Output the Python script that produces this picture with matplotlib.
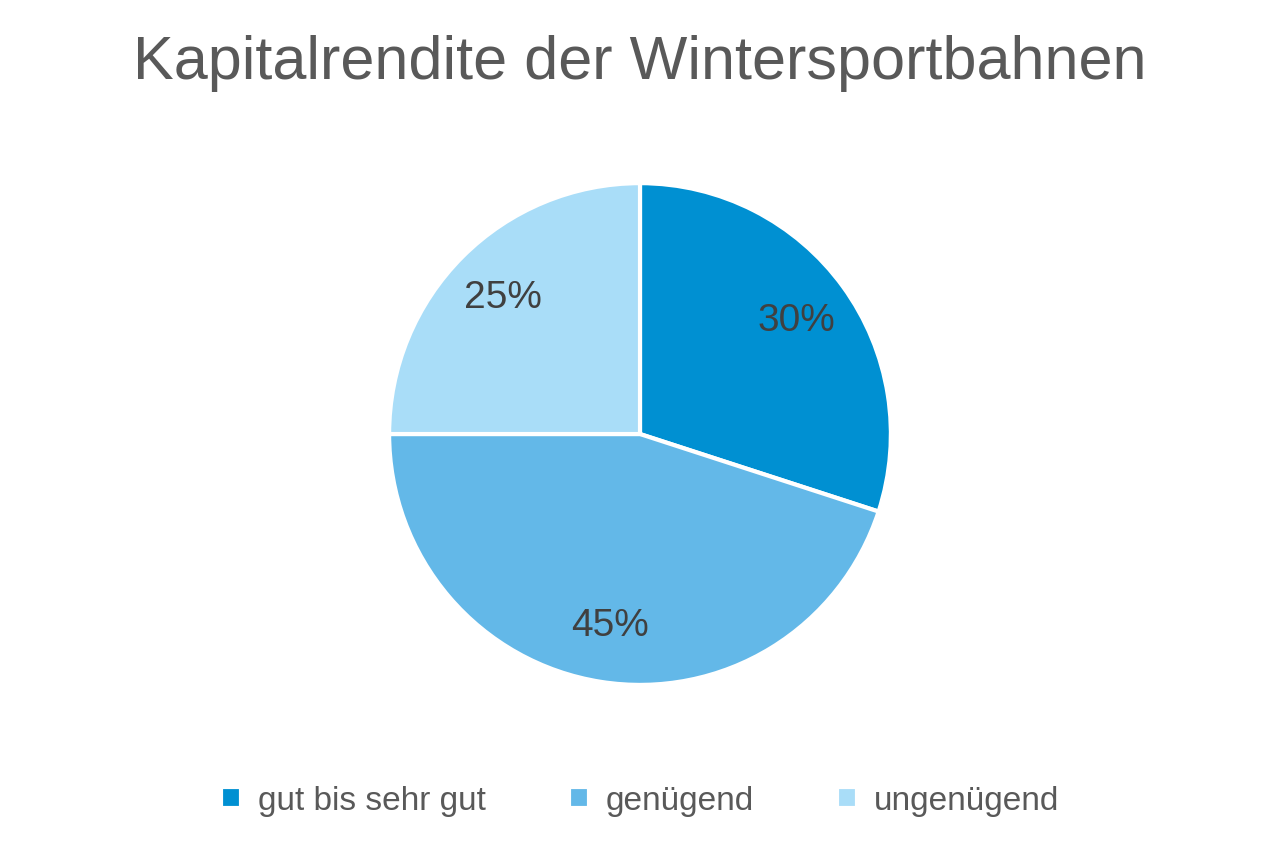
import matplotlib.pyplot as plt

labels = ['gut bis sehr gut', 'genügend', 'ungenügend']
values = [30, 45, 25]
colors = ['#0090D2', '#63B8E8', '#A9DDF8']

plt.rcParams['font.family'] = 'Liberation Sans'
fig = plt.figure(figsize=(12.8, 8.53), dpi=100)
ax = fig.add_axes([0.5 - 0.2, 0.49 - 0.3, 0.4, 0.6])
wedges, texts, autotexts = ax.pie(values, colors=colors, startangle=90, counterclock=False,
                                  autopct='%d%%', pctdistance=0.77, radius=1,
                                  wedgeprops=dict(edgecolor='white', linewidth=3),
                                  textprops=dict(fontsize=28, color='#404040'))
ax.set_xlim(-1.02, 1.02)
ax.set_ylim(-1.02, 1.02)
ax.set_aspect('equal')

fig.text(0.5, 0.925, 'Kapitalrendite der Wintersportbahnen', ha='center', va='center',
         fontsize=44, color='#595959')
fig.legend(wedges, labels, loc='center', bbox_to_anchor=(0.5, 0.06), ncol=3, frameon=False,
           fontsize=24, labelcolor='#595959', handlelength=0.6, handleheight=0.6,
           columnspacing=2.5, handletextpad=0.5)
fig.savefig('out.png', dpi=100)
